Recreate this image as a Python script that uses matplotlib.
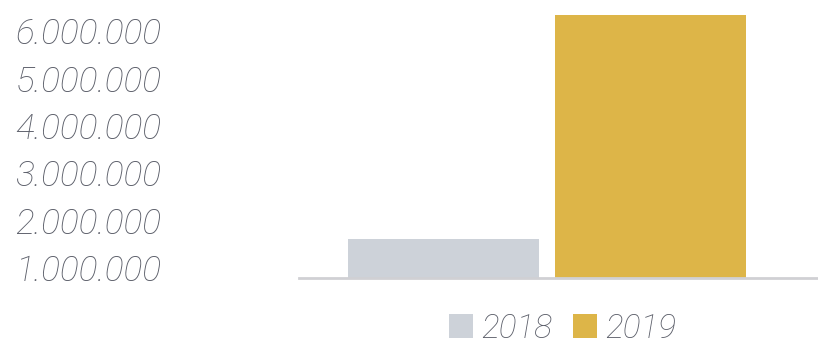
import matplotlib
matplotlib.use("Agg")
import matplotlib.pyplot as plt
from matplotlib.patches import Patch

# ---------------------------------------------------------------------------
# DATA
# ---------------------------------------------------------------------------
years = ['2018', '2019']
values = [1_610_000, 6_340_000]
bar_colors = ['#cdd2d9', '#ddb548']
tick_values = [1_000_000, 2_000_000, 3_000_000, 4_000_000, 5_000_000, 6_000_000]
tick_labels = ['1.000.000', '2.000.000', '3.000.000', '4.000.000', '5.000.000', '6.000.000']

TEXT = '#5c5f6a'
FONT = dict(family='Roboto', style='italic', weight='light', size=25.5)
LEG_FONT = dict(family='Roboto', style='italic', weight='light', size=24)

# ---------------------------------------------------------------------------
# PLOT
# ---------------------------------------------------------------------------
fig = plt.figure(figsize=(8.18, 3.47), dpi=100)
ax = fig.add_axes([0.3655, 0.199, 0.6345, 0.801])

ax.bar(range(len(years)), values, width=0.923, color=bar_colors, zorder=2)

ax.set_xlim(-0.698, 1.809)
ax.set_ylim(790_000, 6_654_000)
ax.set_xticks([])
ax.set_yticks(tick_values)
ax.set_yticklabels(tick_labels, **FONT, color=TEXT)
ax.tick_params(axis='y', length=0, pad=99)

for side in ['top', 'right', 'left']:
    ax.spines[side].set_visible(False)
ax.spines['bottom'].set_color('#d0d0d4')
ax.spines['bottom'].set_linewidth(2)

handles = [Patch(facecolor=c, edgecolor='none') for c in bar_colors]
leg = fig.legend(handles, years, loc='center', bbox_to_anchor=(0.688, 0.052),
                 ncol=2, frameon=False, handlelength=0.72, handleheight=0.72,
                 handletextpad=0.24, columnspacing=0.62, borderpad=0.1,
                 prop=LEG_FONT)
for t in leg.get_texts():
    t.set_color(TEXT)

plt.savefig('out.png', dpi=100)
